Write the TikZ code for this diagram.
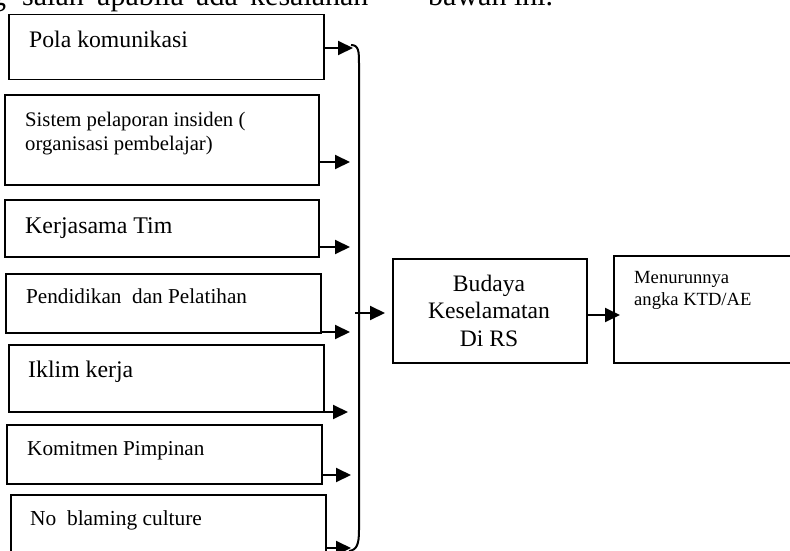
\documentclass[tikz,border=0pt]{standalone}
\usepackage{fontspec}
\setmainfont{Liberation Serif}
\usetikzlibrary{arrows.meta}
\newcommand{\fsz}[1]{\fontsize{#1}{#1}\selectfont}
\begin{document}
\begin{tikzpicture}[x=1pt,y=-1pt,
  box/.style={draw, line width=1.5pt, inner sep=0pt, anchor=north west},
  txt/.style={anchor=base west, inner sep=0pt},
  arr/.style={line width=2pt, -{Triangle[length=15pt,width=14pt]}},
  bracel/.style={line width=2pt}]
\useasboundingbox (0,0) rectangle (790,551);
\clip (0,0) rectangle (790,551);

% top cut-off text line
\node[txt] (w0) at (-9,6) {\fsz{30}g};
\node[txt] (w1) at (22,6) {\fsz{30}salah};
\node[txt] (w2) at (97,6) {\fsz{30}apabila};
\node[txt] (w3) at (196,6) {\fsz{30}ada};
\node[txt] (w4) at (250,6) {\fsz{30}kesalahan};
\node[txt] (w5) at (428,6) {\fsz{30}bawah ini.};

% left boxes
\node[box, minimum width=315pt, minimum height=65pt] (b1) at (8,14) {};
\node[box, minimum width=314pt, minimum height=90pt] (b2) at (4,94) {};
\node[box, minimum width=314pt, minimum height=57pt] (b3) at (4,199) {};
\node[box, minimum width=315pt, minimum height=59pt] (b4) at (5,273) {};
\node[box, minimum width=315pt, minimum height=67pt] (b5) at (8,344) {};
\node[box, minimum width=315pt, minimum height=59pt] (b6) at (6,424) {};
\node[box, minimum width=315pt, minimum height=70pt] (b7) at (10,494) {};

\node[txt] (l1) at (29,48) {\fsz{23.7}Pola komunikasi};
\node[txt] (l2a) at (25,126) {\fsz{20.7}Sistem pelaporan insiden (};
\node[txt] (l2b) at (25,150) {\fsz{20.7}organisasi pembelajar)};
\node[txt] (l3) at (25,233) {\fsz{23.9}Kerjasama Tim};
\node[txt] (l4) at (26,303) {\fsz{21.2}Pendidikan\ \ dan Pelatihan};
\node[txt] (l5) at (28,377) {\fsz{23.8}Iklim kerja};
\node[txt] (l6) at (27,455) {\fsz{21.2}Komitmen Pimpinan};
\node[txt] (l7) at (30,525) {\fsz{21.4}No\ \ blaming culture};

% right boxes
\node[box, minimum width=194pt, minimum height=104pt] (bud) at (392,258) {};
\node[box, minimum width=200pt, minimum height=107pt] (men) at (613,255) {};
\node[anchor=base, inner sep=0pt] (c1) at (489,291) {\fsz{23.6}Budaya};
\node[anchor=base, inner sep=0pt] (c2) at (489,318) {\fsz{23.6}Keselamatan};
\node[anchor=base, inner sep=0pt] (c3) at (489,346) {\fsz{23.6}Di RS};
\node[txt] (r1) at (634,283) {\fsz{18.6}Menurunnya};
\node[txt] (r2) at (634,305) {\fsz{18.6}angka KTD/AE};

% arrow tips
\coordinate (t1) at (353,48);
\coordinate (t2) at (350,162);
\coordinate (t3) at (350,247);
\coordinate (t4) at (350,332);
\coordinate (t5) at (348,412);
\coordinate (t6) at (351,475);
\coordinate (t7) at (351,548);
\draw[arr] (b1.east |- t1) -- (t1);
\draw[arr] (b2.east |- t2) -- (t2);
\draw[arr] (b3.east |- t3) -- (t3);
\draw[arr] (b4.east |- t4) -- (t4);
\draw[arr] (b5.east |- t5) -- (t5);
\draw[arr] (b6.east |- t6) -- (t6);
\draw[arr] (b7.east |- t7) -- (t7);

% brace
\coordinate (bt) at (351,45);
\coordinate (bb) at (349,551);
\draw[bracel] (bt) .. controls (359,45) and (359,52) .. (359,64) -- (359,530) .. controls (359,544) and (357,550) .. (bb);

% middle arrows
\coordinate (m0) at (355,313);
\coordinate (m1) at (385,313);
\draw[arr] (m0) -- (m1);
\coordinate (m2) at (620,315);
\draw[arr] (bud.east |- m2) -- (m2);
\end{tikzpicture}
\end{document}
